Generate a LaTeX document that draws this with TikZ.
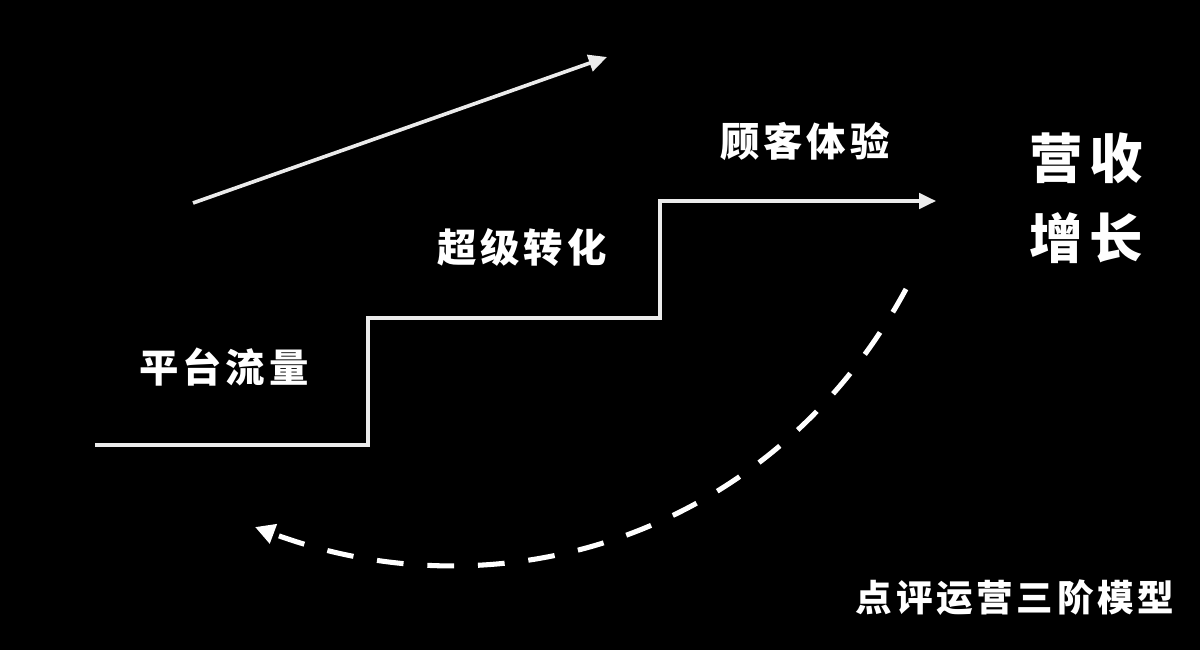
\documentclass[tikz,border=0pt]{standalone}
\usepackage{fontspec}
\newfontfamily\cjk{Noto Sans CJK SC}
\usetikzlibrary{arrows.meta}
\tikzset{
  lbl/.style={text=white, font=\cjk\bfseries\addfontfeature{LetterSpace=10}\fontsize{28}{32}\selectfont, inner sep=0pt},
  big/.style={text=white, font=\cjk\bfseries\addfontfeature{LetterSpace=12}\fontsize{38}{44}\selectfont, inner sep=0pt},
  foot/.style={text=white, font=\cjk\bfseries\addfontfeature{LetterSpace=10}\fontsize{26}{30}\selectfont, inner sep=0pt},
  chalk/.style={draw=white!92!black, line width=2.2pt, line join=miter},
  dashline/.style={draw=white, line width=3.6pt, dash pattern=on 19pt off 17pt}
}
\begin{document}
\begin{tikzpicture}[x=0.025cm, y=-0.025cm]
\fill[black] (0,0) rectangle (1200,650);
\useasboundingbox (0,0) rectangle (1200,650);
% staircase
\coordinate (s0) at (95,445);
\coordinate (s1) at (368,445);
\coordinate (s2) at (368,318);
\coordinate (s3) at (660,318);
\coordinate (s4) at (660,201);
\coordinate (s5) at (936,201);
\draw[chalk, -{Triangle[length=12pt,width=11pt]}] (s0) -- (s1) -- (s2) -- (s3) -- (s4) -- (s5);
% rising arrow
\coordinate (a0) at (193,203);
\coordinate (a1) at (607,57);
\draw[chalk, line width=2.6pt, -{Triangle[length=13pt,width=12pt]}] (a0) -- (a1);
% dashed return arc
\coordinate (d0) at (906,289);
\coordinate (d1) at (255,527);
\draw[dashline, -{Triangle[length=14pt,width=14pt]}] (d0) .. controls (775,532) and (505,620) .. (d1);
% labels
\node[lbl] (t1) at (224,367) {平台流量};
\node[lbl] (t2) at (522,247) {超级转化};
\node[lbl] (t3) at (805,141) {顾客体验};
\node[big] (r1) at (1086,158) {营收};
\node[big] (r2) at (1086,238) {增长};
\node[foot] (f) at (1015,598) {点评运营三阶模型};
\end{tikzpicture}
\end{document}
